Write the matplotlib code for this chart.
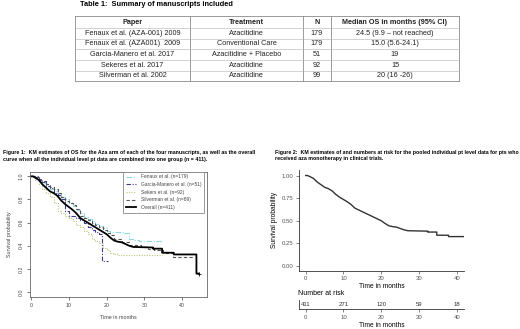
import numpy as np
import matplotlib.pyplot as plt
from matplotlib.lines import Line2D

plt.rcParams['font.family'] = ['Liberation Sans', 'DejaVu Sans']

W, H = 520, 329

# ---- table data
table_title = "Table 1:  Summary of manuscripts included"
col_heads = ["Paper", "Treatment", "N", "Median OS in months (95% CI)"]
papers = ["Fenaux et al. (AZA-001) 2009", "Fenaux et al. (AZA001)  2009",
          "Garcia-Manero et al. 2017", "Sekeres et al. 2017", "Silverman et al. 2002"]
treatments = ["Azacitidine", "Conventional Care", "Azacitidine + Placebo",
              "Azacitidine", "Azacitidine"]
n_pts = [179, 179, 51, 92, 99]
median_os = ["24.5 (9.9 \u2013 not reached)", "15.0 (5.6-24.1)", "19", "15", "20 (16 -26)"]

# ---- KM curves
# pooled curve: dense small steps early, explicit drops later
t_all = [0, 0.5, 1, 2, 3, 4, 5, 6, 7, 8, 9, 10, 11, 12, 13, 14, 15, 16, 17, 18, 19,
         20, 21, 22, 23, 24, 25, 26, 27, 32.3, 32.3, 34.7, 34.7, 37.8, 37.8,
         43.8, 43.8, 44.4]
s_all = [1.0, 1.0, 0.99, 0.97, 0.93, 0.90, 0.87, 0.855, 0.83, 0.79, 0.76, 0.735,
         0.71, 0.68, 0.64, 0.62, 0.60, 0.58, 0.56, 0.54, 0.52, 0.50, 0.47, 0.445,
         0.435, 0.43, 0.415, 0.40, 0.39, 0.385, 0.375, 0.375, 0.34, 0.34, 0.325,
         0.325, 0.16, 0.16]

t_fen = [0, 1, 2, 3, 4, 5, 6, 7, 8, 9, 10, 11, 12, 13, 14, 15, 16, 17, 18, 19,
         20, 21, 24.5, 26, 27, 28.5, 35]
s_fen = [1.0, 0.98, 0.96, 0.94, 0.92, 0.89, 0.87, 0.85, 0.82, 0.80, 0.77, 0.74,
         0.71, 0.68, 0.65, 0.63, 0.61, 0.59, 0.57, 0.55, 0.53, 0.52, 0.51, 0.46,
         0.45, 0.44, 0.44]

t_gar = [0, 2, 3, 4, 5, 6, 7, 8, 9, 10, 12, 13, 14, 15, 16, 17, 18, 18.8, 20.5]
s_gar = [1.0, 0.98, 0.96, 0.92, 0.90, 0.86, 0.84, 0.80, 0.70, 0.66, 0.64, 0.62,
         0.60, 0.56, 0.54, 0.52, 0.50, 0.27, 0.27]

t_sek = [0, 1, 2, 3, 4, 5, 6, 7, 8, 9, 10, 11, 12, 13, 14, 15, 16, 17, 18, 19,
         20, 21, 22, 23, 34.8]
s_sek = [1.0, 0.97, 0.93, 0.89, 0.86, 0.82, 0.77, 0.70, 0.68, 0.66, 0.64, 0.61,
         0.58, 0.56, 0.53, 0.50, 0.46, 0.44, 0.42, 0.38, 0.36, 0.34, 0.33, 0.32, 0.32]

t_sil = [0, 1, 2, 3, 4, 5, 6, 7, 8, 9, 10, 11, 12, 13, 14, 15, 16, 17, 18, 19,
         20, 21, 22, 24, 26, 29, 31, 32.5, 35, 37.5, 43]
s_sil = [1.0, 0.99, 0.97, 0.95, 0.93, 0.91, 0.89, 0.86, 0.82, 0.79, 0.77, 0.75,
         0.72, 0.66, 0.64, 0.62, 0.60, 0.58, 0.56, 0.54, 0.51, 0.49, 0.46, 0.43,
         0.41, 0.39, 0.37, 0.36, 0.34, 0.305, 0.305]

risk_times = [0, 10, 20, 30, 40]
at_risk = [411, 271, 120, 59, 18]

cap1 = ("Figure 1:  KM estimates of OS for the Aza arm of each of the four manuscripts, as well as the overall\n"
        "curve when all the individual level pt data are combined into one group (n = 411).")
cap2 = ("Figure 2:  KM estimates of and numbers at risk for the pooled individual pt level data for pts who\n"
        "received aza monotherapy in clinical trials.")

fig = plt.figure(figsize=(W / 100, H / 100), dpi=100)
fig.patch.set_facecolor('white')

# background axes in pixel coordinates for table and captions
bg = fig.add_axes([0, 0, 1, 1])
bg.set_xlim(0, W)
bg.set_ylim(H, 0)
bg.axis('off')

bg.text(80, 4.7, table_title, fontsize=5.3, fontweight='bold', va='center', ha='left')
col_x = [75, 190, 303, 331, 459]
row_y = [16, 28.3, 38.5, 49, 59.8, 70.5, 81]
for x in col_x:
    bg.plot([x, x], [row_y[0], row_y[-1]], color='#8a8a8a', lw=0.6)
for i, y in enumerate(row_y):
    edge = i in (0, len(row_y) - 1)
    bg.plot([col_x[0], col_x[-1]], [y, y], color='#8a8a8a' if edge else '#b0b0b0',
            lw=0.6 if edge else 0.4)
rows = [col_heads] + [[p, t, str(n), m] for p, t, n, m in zip(papers, treatments, n_pts, median_os)]
for i, row in enumerate(rows):
    yc = (row_y[i] + row_y[i + 1]) / 2
    for j, txt in enumerate(row):
        xc = (col_x[j] + col_x[j + 1]) / 2
        bg.text(xc, yc, txt, fontsize=5.2, ha='center', va='center',
                fontweight='bold' if i == 0 else 'normal', color='#222222')

bg.text(3, 156, cap1, fontsize=3.75, fontweight='bold', va='center', ha='left', linespacing=1.35)
bg.text(275, 155.5, cap2, fontsize=3.75, fontweight='bold', va='center', ha='left', linespacing=1.35)

# ---- Figure 1: five KM curves
ax1 = fig.add_axes([30 / W, 1 - 296.7 / H, 177 / W, 125 / H])
curves = [
    (t_fen, s_fen, '#8fd8e6', (0, (5, 1.5, 1, 1.5)), 0.8, "Fenaux et al. (n=179)", 'steps-post'),
    (t_gar, s_gar, '#3b3b8f', (0, (4, 1.5, 1, 1.5)), 0.8, "Garcia-Manero et al. (n=51)", 'steps-post'),
    (t_sek, s_sek, '#b5c77a', (0, (1, 1.3)), 0.8, "Sekers et al. (n=92)", 'steps-post'),
    (t_sil, s_sil, '#555555', (0, (3, 2)), 0.8, "Silverman et al. (n=89)", 'steps-post'),
    (t_all, s_all, '#000000', '-', 1.3, "Overall (n=411)", 'default'),
]
handles = []
for t, s, c, ls, lw, lab, ds in curves:
    ax1.plot(t, s, drawstyle=ds, color=c, ls=ls, lw=lw)
    handles.append(Line2D([], [], color=c, ls=ls, lw=lw))
ax1.plot([t_all[-1]], [s_all[-1]], marker='+', color='black', ms=2.5, mew=0.6)
ax1.set_xlim(-0.3, 46.6)
ax1.set_ylim(-0.04, 1.04)
ax1.set_xticks([0, 10, 20, 30, 40])
ax1.set_yticks([0.0, 0.2, 0.4, 0.6, 0.8, 1.0])
ax1.set_yticklabels(["0.0", "0.2", "0.4", "0.6", "0.8", "1.0"], rotation=90, va='center')
ax1.tick_params(labelsize=3.8, length=2.5, width=0.5, colors='#444444', pad=2)
for sp in ax1.spines.values():
    sp.set_color('#666666')
    sp.set_linewidth(0.6)
ax1.set_xlabel("Time in months", fontsize=3.9, color='#444444', labelpad=5)
ax1.set_ylabel("Survival probability", fontsize=3.9, color='#444444', labelpad=5)
leg = ax1.legend(handles, [c[5] for c in curves], loc='upper right',
                 bbox_to_anchor=(0.985, 0.998), borderaxespad=0, fontsize=3.5,
                 handlelength=2.2, labelspacing=0.55, fancybox=False,
                 edgecolor='#888888', framealpha=1, borderpad=0.5, handletextpad=1.0)
leg.get_frame().set_linewidth(0.6)
for txt in leg.get_texts():
    txt.set_color('#444444')

# ---- Figure 2: pooled KM curve
ax2 = fig.add_axes([299 / W, 1 - 270.7 / H, 165 / W, 100.7 / H])
ax2.plot(t_all, s_all, color='#333333', lw=1.0)
ax2.set_xlim(-1.77, 41.9)
ax2.set_ylim(-0.052, 1.061)
ax2.set_xticks([0, 10, 20, 30, 40])
ax2.set_yticks([0.0, 0.25, 0.5, 0.75, 1.0])
ax2.set_yticklabels(["0.00", "0.25", "0.50", "0.75", "1.00"])
ax2.tick_params(labelsize=4.3, length=2, width=0.5, colors='#555555', pad=2)
for side in ('top', 'right'):
    ax2.spines[side].set_visible(False)
for side in ('left', 'bottom'):
    ax2.spines[side].set_color('#333333')
    ax2.spines[side].set_linewidth(0.6)
ax2.set_xlabel("Time in months", fontsize=4.8, labelpad=1.5)
ax2.set_ylabel("Survival probability", fontsize=4.8, labelpad=2.5)

# ---- numbers at risk
ax3 = fig.add_axes([299 / W, 1 - 309.3 / H, 165 / W, 9 / H])
ax3.set_xlim(-1.77, 41.9)
ax3.set_ylim(0, 1)
for x, n in zip(risk_times, at_risk):
    ax3.text(x, 0.55, str(n), fontsize=4.3, ha='center', va='center', color='#333333')
ax3.set_xticks([0, 10, 20, 30, 40])
ax3.set_yticks([])
ax3.tick_params(labelsize=4.3, length=2, width=0.5, colors='#555555', pad=2)
for side in ('top', 'right'):
    ax3.spines[side].set_visible(False)
for side in ('left', 'bottom'):
    ax3.spines[side].set_color('#333333')
    ax3.spines[side].set_linewidth(0.6)
ax3.set_xlabel("Time in months", fontsize=4.8, labelpad=1.5)
bg.text(298, 293.5, "Number at risk", fontsize=5.0, ha='left', va='center')

fig.savefig('out.png', dpi=100, facecolor='white')
